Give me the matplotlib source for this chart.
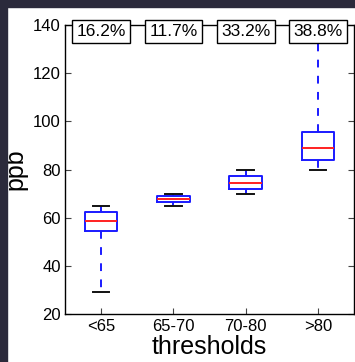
import matplotlib
matplotlib.use("Agg")
import matplotlib.pyplot as plt
from matplotlib.patches import Rectangle

plt.rcParams['font.family'] = ['Liberation Sans', 'DejaVu Sans']

categories = ['<65', '65-70', '70-80', '>80']
q1 = [54.5, 66.5, 71.9, 83.8]
med = [58.7, 67.9, 74.5, 88.9]
q3 = [62.2, 68.9, 77.2, 95.6]
whislo = [29, 65, 70, 80]
whishi = [65, 70, 80, 150]
percent_labels = ['16.2%', '11.7%', '33.2%', '38.8%']
yticks = [20, 40, 60, 80, 100, 120, 140]

fig = plt.figure(figsize=(3.55, 3.62), dpi=100)
fig.patch.set_facecolor('white')
dark = '#2b2a3b'
fig.patches.append(Rectangle((0, 0), 7/355, 1, transform=fig.transFigure, color=dark, zorder=0))
fig.patches.append(Rectangle((0, 1 - 7/362), 1, 7/362, transform=fig.transFigure, color=dark, zorder=0))

ax = fig.add_axes([65/355, 48/362, 289/355, 289/362])

stats = []
for i in range(len(categories)):
    stats.append(dict(q1=q1[i], med=med[i], q3=q3[i], whislo=whislo[i], whishi=whishi[i], fliers=[]))

lw = 1.4
ax.bxp(stats, positions=range(1, len(categories) + 1), widths=0.45, showfliers=False,
       boxprops=dict(color='#1a1aff', linewidth=lw),
       medianprops=dict(color='#ff2020', linewidth=lw),
       whiskerprops=dict(color='#1a1aff', linewidth=lw, linestyle=(0, (4, 4.3))),
       capprops=dict(color='#111111', linewidth=lw))

ax.set_xlim(0.5, 4.5)
ax.set_ylim(20, 140)
ax.set_yticks(yticks)
ax.set_xticks(range(1, len(categories) + 1))
ax.set_xticklabels(categories)
ax.tick_params(axis='both', direction='in', length=4, width=0.8, labelsize=12,
               right=True, top=False, color='#444444')
ax.tick_params(axis='y', pad=3)
for s in ax.spines.values():
    s.set_linewidth(1.0)
    s.set_color('black')

for i, p in enumerate(percent_labels):
    ax.text(i + 1, 137.3, p, ha='center', va='center', fontsize=12.5, zorder=6, clip_on=False,
            bbox=dict(boxstyle='square,pad=0.25', fc='white', ec='black', lw=1.0))

ax.set_xlabel('thresholds', fontsize=18, labelpad=1)
ax.set_ylabel('ppb', fontsize=18, labelpad=4)

fig.savefig('out.png', dpi=100)
